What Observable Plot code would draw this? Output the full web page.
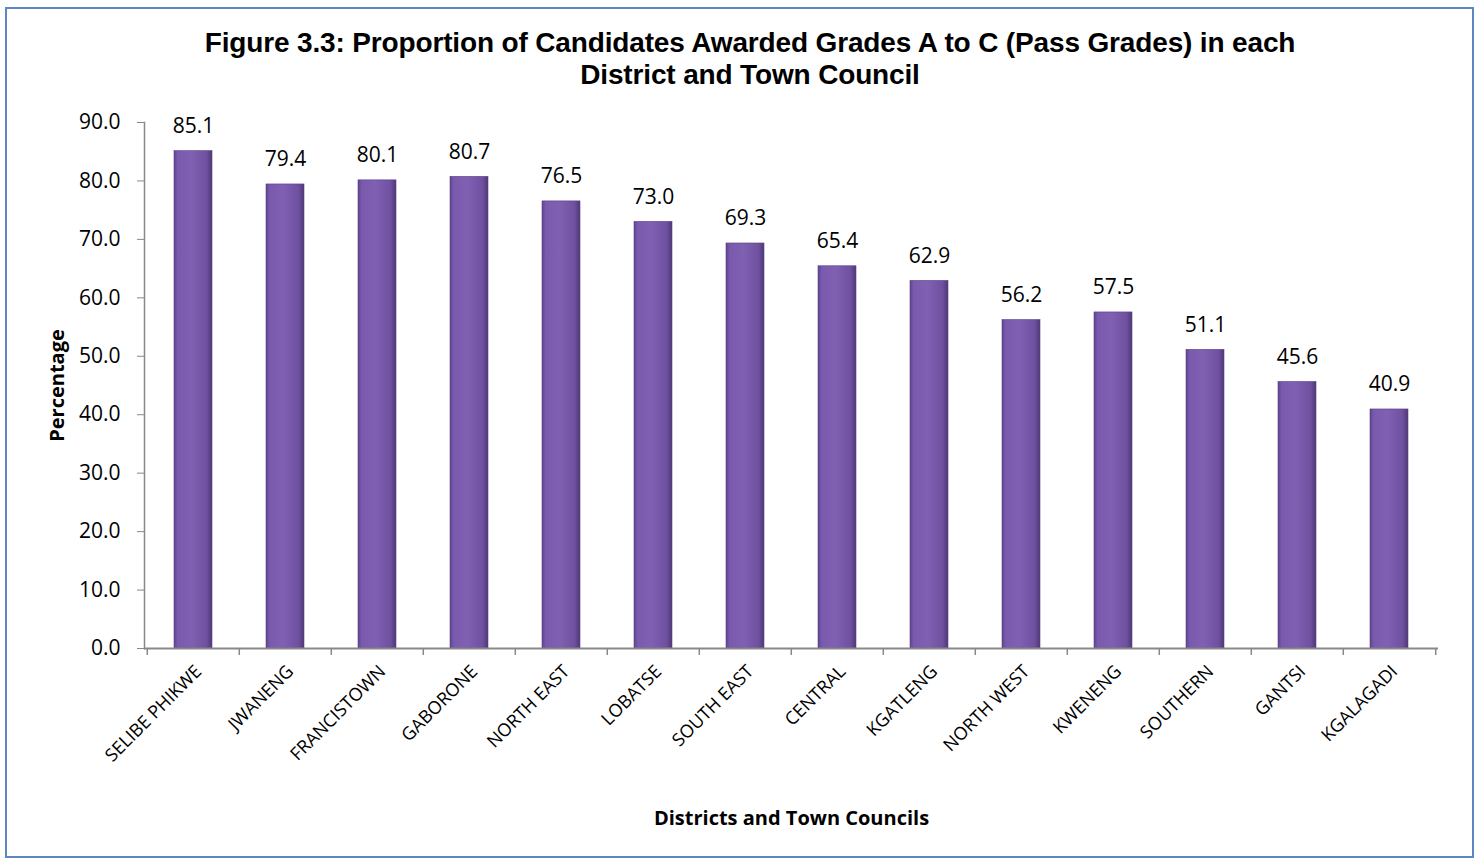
<!DOCTYPE html>
<html>
<head>
<meta charset="utf-8">
<script src="https://cdn.jsdelivr.net/npm/d3@7"></script>
<script src="https://cdn.jsdelivr.net/npm/@observablehq/plot@0.6"></script>
<style>
  html, body { margin: 0; padding: 0; background: #fff; }
  #box { position: absolute; left: 5px; top: 7px; width: 1469px; height: 851px; border: 2px solid #5B87C2; box-sizing: border-box; }
  #title { position: absolute; left: 0; top: 27px; width: 1500px; text-align: center; font-family: "Liberation Sans", Arial, sans-serif; font-weight: bold; font-size: 28px; line-height: 32px; color: #000; letter-spacing: -0.15px; }
  #chart { position: absolute; left: 0; top: 100px; }
</style>
</head>
<body>
<div id="box"></div>
<div id="title">Figure 3.3: Proportion of Candidates Awarded Grades A to C (Pass Grades) in each<br>District and Town Council</div>
<div id="chart"></div>
<script>
const categories = ["SELIBE PHIKWE","JWANENG","FRANCISTOWN","GABORONE","NORTH EAST","LOBATSE","SOUTH EAST","CENTRAL","KGATLENG","NORTH WEST","KWENENG","SOUTHERN","GANTSI","KGALAGADI"];
const values = [85.1,79.4,80.1,80.7,76.5,73.0,69.3,65.4,62.9,56.2,57.5,51.1,45.6,40.9];
const yTicks = [0,10,20,30,40,50,60,70,80,90];
const data = categories.map((c, i) => ({name: c, value: values[i]}));

const W = 1480, H = 761, ML = 144, MR = 42, MT = 22, MB = 213;
const step = (W - ML - MR) / categories.length;
const font = "'Open Sans', 'DejaVu Sans', sans-serif";

const plot = Plot.plot({
  width: W, height: H,
  marginLeft: ML, marginRight: MR, marginTop: MT, marginBottom: MB,
  style: {fontFamily: font, fontSize: "20px", color: "#000", background: "transparent"},
  x: {domain: categories, paddingInner: 0.59, paddingOuter: 0.295, align: 0.5},
  y: {domain: [0, 90], ticks: yTicks},
  marks: [
    Plot.axisY({ticks: yTicks, tickFormat: d => d.toFixed(1), tickSize: 7, tickPadding: 17, stroke: "#888", label: null, fontSize: 21}),
    Plot.frame({anchor: "left", stroke: "#888", strokeWidth: 1.5}),
    Plot.barY(data, {x: "name", y: "value", fill: "url(#barGrad)", stroke: "#5a4387", strokeWidth: 0.6}),
    Plot.tickY(data, {x: "name", y: "value", dy: 5, stroke: "url(#capGrad)", strokeWidth: 8, insetLeft: 1, insetRight: 1}),
    Plot.ruleY([0], {stroke: "#888", strokeWidth: 2}),
    Plot.ruleX(categories, {x: d => d, dx: -step / 2, y1: 0, y2: -1.2, stroke: "#888", strokeWidth: 1.5}),
    Plot.ruleX([categories[categories.length - 1]], {x: d => d, dx: step / 2, y1: 0, y2: -1.2, stroke: "#888", strokeWidth: 1.5}),
    Plot.axisX({tickSize: 0, tickRotate: -45, tickPadding: 20, dx: 5, label: null, fontSize: 18}),
    Plot.text(data, {x: "name", y: "value", text: d => d.value.toFixed(1), dy: -25, fontSize: 21, fill: "#000"}),
    Plot.text(["Percentage"], {frameAnchor: "left", dx: -87, rotate: -90, textAnchor: "middle", fontWeight: "bold", fontSize: 20}),
    Plot.text(["Districts and Town Councils"], {frameAnchor: "bottom", dy: 176, textAnchor: "middle", fontWeight: "bold", fontSize: 20})
  ]
});

const ns = "http://www.w3.org/2000/svg";
const defs = document.createElementNS(ns, "defs");
defs.innerHTML = `
  <linearGradient id="barGrad" x1="0" y1="0" x2="1" y2="0">
    <stop offset="0%" stop-color="#5e4490"/>
    <stop offset="10%" stop-color="#7a5aac"/>
    <stop offset="45%" stop-color="#8060b2"/>
    <stop offset="85%" stop-color="#6f51a0"/>
    <stop offset="100%" stop-color="#4e3878"/>
  </linearGradient>
  <linearGradient id="capGrad" x1="0" y1="0" x2="1" y2="0">
    <stop offset="0%" stop-color="#7d5fb0"/>
    <stop offset="15%" stop-color="#a98ad9"/>
    <stop offset="50%" stop-color="#b396e2"/>
    <stop offset="85%" stop-color="#a283d3"/>
    <stop offset="100%" stop-color="#6a4e9a"/>
  </linearGradient>`;
plot.insertBefore(defs, plot.firstChild);
document.getElementById("chart").appendChild(plot);
</script>
</body>
</html>
